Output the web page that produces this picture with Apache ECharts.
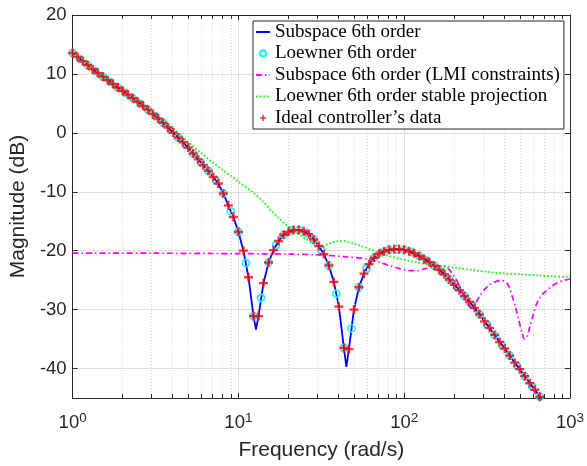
<!DOCTYPE html>
<html><head><meta charset="utf-8">
<script src="https://cdn.jsdelivr.net/npm/echarts@6/dist/echarts.min.js"></script>
<style>html,body{margin:0;padding:0;background:#fff}#c{width:587px;height:466px}</style>
</head><body><div id="c"></div>
<script>
// Ideal controller's data (red +)
const idealFreq = [
  1, 1.072, 1.15, 1.233, 1.322, 1.417, 1.52, 1.63, 1.748, 1.874,
  2.009, 2.154, 2.31, 2.477, 2.656, 2.848, 3.054, 3.275, 3.511, 3.765,
  4.037, 4.329, 4.642, 4.977, 5.337, 5.722, 6.136, 6.579, 7.055, 7.565,
  8.111, 8.697, 9.326, 10, 10.72, 11.5, 12.33, 13.22, 14.17, 15.2,
  16.3, 17.48, 18.74, 20.09, 21.54, 23.1, 24.77, 26.56, 28.48, 30.54,
  32.75, 35.11, 37.65, 40.37, 43.29, 46.42, 49.77, 53.37, 57.22, 61.36,
  65.79, 70.55, 75.65, 81.11, 86.97, 93.26, 100, 107.2, 115, 123.3,
  132.2, 141.7, 152, 163, 174.8, 187.4, 200.9, 215.4, 231, 247.7,
  265.6, 284.8, 305.4, 327.5, 351.1, 376.5, 403.7, 432.9, 464.2, 497.7,
  533.7, 572.2, 613.6, 657.9, 705.5, 756.5, 811.1, 869.7, 932.6, 1000];
const idealMag = [
  13.55, 12.86, 12.17, 11.48, 10.79, 10.15, 9.54, 8.93, 8.31, 7.70,
  7.09, 6.48, 5.87, 5.24, 4.59, 3.93, 3.2, 2.45, 1.7, 0.9,
  0.05, -0.8, -1.6, -2.5, -3.5, -4.5, -5.5, -6.45, -7.5, -8.6,
  -10.3, -12.3, -14.3, -16.8, -20.0, -24.5, -31.1, -31.1, -25.5, -22.0,
  -19.9, -18.35, -17.3, -16.8, -16.5, -16.5, -16.7, -17.2, -18.1, -19.2,
  -20.6, -22.5, -25.3, -29.5, -36.5, -36.7, -30.0, -26.2, -23.9, -22.3,
  -21.2, -20.5, -20.1, -19.85, -19.75, -19.75, -19.85, -20.1, -20.45, -20.9,
  -21.4, -21.95, -22.55, -23.25, -24.0, -24.9, -25.8, -26.7, -27.7, -28.7,
  -29.7, -30.8, -32.0, -33.1, -34.3, -35.5, -36.6, -37.8, -39.0, -40.1,
  -41.3, -42.5, -43.6, -44.8, -46.0, -47.2, -48.3, -49.5, -50.7, -51.9];

// Subspace 6th order (blue line)
const subspaceFreq = [
  1, 1.072, 1.15, 1.233, 1.322, 1.417, 1.52, 1.63, 1.748, 1.874,
  2.009, 2.154, 2.31, 2.477, 2.656, 2.848, 3.054, 3.275, 3.511, 3.765,
  4.037, 4.329, 4.642, 4.977, 5.337, 5.722, 6.136, 6.579, 7.055, 7.565,
  8.111, 8.697, 9.326, 10, 10.72, 11.5, 12.33, 12.76, 13.22, 14.17, 15.2,
  16.3, 17.48, 18.74, 20.09, 21.54, 23.1, 24.77, 26.56, 28.48, 30.54,
  32.75, 35.11, 37.65, 40.37, 43.29, 44.8, 46.42, 49.77, 53.37, 57.22, 61.36,
  65.79, 70.55, 75.65, 81.11, 86.97, 93.26, 100, 107.2, 115, 123.3,
  132.2, 141.7, 152, 163, 174.8, 187.4, 200.9, 215.4, 231, 247.7,
  265.6, 284.8, 305.4, 327.5, 351.1, 376.5, 403.7, 432.9, 464.2, 497.7,
  533.7, 572.2, 613.6, 657.9, 705.5, 756.5, 811.1, 869.7, 932.6, 1000];
const subspaceMag = [
  13.55, 12.86, 12.17, 11.48, 10.79, 10.15, 9.54, 8.93, 8.31, 7.70,
  7.09, 6.48, 5.87, 5.24, 4.59, 3.93, 3.2, 2.45, 1.7, 0.9,
  0.05, -0.8, -1.6, -2.5, -3.5, -4.5, -5.5, -6.45, -7.5, -8.6,
  -10.3, -12.3, -14.3, -16.8, -20.0, -24.5, -31.1, -33.4, -31.1, -25.5, -22.0,
  -19.9, -18.35, -17.3, -16.8, -16.5, -16.5, -16.7, -17.2, -18.1, -19.2,
  -20.6, -22.5, -25.3, -29.5, -36.5, -39.7, -36.7, -30.0, -26.2, -23.9, -22.3,
  -21.2, -20.5, -20.1, -19.85, -19.75, -19.75, -19.85, -20.1, -20.45, -20.9,
  -21.4, -21.95, -22.55, -23.25, -24.0, -24.9, -25.8, -26.7, -27.7, -28.7,
  -29.7, -30.8, -32.0, -33.1, -34.3, -35.5, -36.6, -37.8, -39.0, -40.1,
  -41.3, -42.5, -43.6, -44.8, -46.0, -47.2, -48.3, -49.5, -50.7, -51.9];

// Loewner 6th order (cyan circles)
const loewnerFreq = [
  1, 1.11, 1.233, 1.369, 1.52, 1.688, 1.874, 2.081, 2.31, 2.565,
  2.848, 3.162, 3.511, 3.898, 4.329, 4.806, 5.337, 5.926, 6.579, 7.305,
  8.111, 9.006, 10, 11.1, 12.33, 13.69, 15.2, 16.88, 18.74, 20.81,
  23.1, 25.65, 28.48, 31.62, 35.11, 38.98, 43.29, 48.06, 53.37, 59.26,
  65.79, 73.05, 81.11, 90.06, 100, 111, 123.3, 136.9, 152, 168.8,
  187.4, 208.1, 231, 256.5, 284.8, 316.2, 351.1, 389.8, 432.9, 480.6,
  533.7, 592.6, 657.9, 730.5, 811.1, 900.6, 1000];
const loewnerMag = [
  13.55, 12.52, 11.48, 10.47, 9.54, 8.62, 7.70, 6.78, 5.87, 4.92,
  3.93, 2.82, 1.7, 0.48, -0.8, -2.05, -3.5, -5.0, -6.45, -8.05,
  -10.3, -13.3, -16.8, -22.1, -31.1, -28.0, -22.0, -19.05, -17.3, -16.6,
  -16.5, -16.95, -18.1, -19.9, -22.5, -27.3, -36.5, -33.2, -26.2, -23.0,
  -21.2, -20.3, -19.85, -19.75, -19.85, -20.27, -20.9, -21.67, -22.55, -23.6,
  -24.9, -26.25, -27.7, -29.2, -30.8, -32.55, -34.3, -36.05, -37.8, -39.55,
  -41.3, -43.05, -44.8, -46.6, -48.3, -50.1, -51.9];

// Subspace 6th order (LMI constraints) (magenta dash-dot)
const lmiFreq = [1, 3, 10, 20, 30, 45, 60, 75, 90, 105, 118, 132, 150, 170, 185, 200, 215, 230, 245, 256,
  268, 285, 305, 330, 360, 385, 420, 448, 470, 489, 510, 532, 550, 572, 600, 626, 660, 707, 780, 850, 930, 1000];
const lmiMag = [-20.4, -20.42, -20.5, -20.58, -20.7, -21.05, -21.4, -22.2, -22.9, -23.35, -23.4, -23.1, -22.7, -22.55, -23.1, -24.3, -25.9, -27.8, -29.3, -29.65,
  -29.1, -27.7, -26.6, -25.7, -25.2, -25.05, -25.6, -27.7, -29.6, -31.6, -33.6, -35.0, -34.6, -33.0, -30.9, -29.2, -27.9, -27.0, -26.0, -25.4, -25.0, -24.8];

// Loewner 6th order stable projection (green dotted)
const stableFreq = [1, 1.5, 2, 2.5, 3, 3.5, 4, 5, 6, 7, 8, 9, 10, 12, 14, 16, 18, 20, 22, 24, 26, 28, 30, 32, 34, 37, 41, 45,
  50, 55, 62, 70, 80, 95, 120, 140, 170, 210, 260, 320, 400, 500, 650, 800, 1000];
const stableMag = [13.55, 9.65, 7.1, 5.15, 3.45, 2.1, 0.85, -1.6, -3.5, -5.0, -6.3, -7.3, -8.3, -9.9, -11.6, -13.4, -14.8, -15.9, -16.8, -17.5, -18.15, -18.75, -19.3, -19.4, -19.0, -18.6, -18.35, -18.45,
  -18.8, -19.2, -19.75, -20.35, -20.85, -21.4, -22.0, -22.35, -22.65, -22.95, -23.3, -23.6, -23.85, -24.0, -24.2, -24.35, -24.5];

// minor log grid positions
const minorTicks = [2, 3, 4, 5, 6, 7, 8, 9, 20, 30, 40, 50, 60, 70, 80, 90, 200, 300, 400, 500, 600, 700, 800, 900];

const seriesNames = ['Subspace 6th order', 'Loewner 6th order', 'Subspace 6th order (LMI constraints)',
  'Loewner 6th order stable projection', 'Ideal controller\u2019s data'];

const zip = (a, b) => a.map((v, i) => [v, b[i]]);
const AX = '#262626';
const sans = 'Liberation Sans';
const plusPath = 'path://M3.7,0H6.3V3.7H10V6.3H6.3V10H3.7V6.3H0V3.7H3.7Z';

const chart = echarts.init(document.getElementById('c'), null, {renderer: 'canvas'});
const option = {
  animation: false,
  backgroundColor: '#fff',
  grid: {left: 68, right: 15, top: 15, bottom: 65, containLabel: false},
  xAxis: [{
    type: 'log', logBase: 10, min: 1, max: 1000, position: 'bottom',
    axisLine: {show: true, onZero: false, lineStyle: {color: AX, width: 1}},
    axisTick: {show: true, inside: true, length: 5, lineStyle: {color: AX}},
    splitLine: {show: true, lineStyle: {color: '#dedede', width: 1}},
    axisLabel: {
      margin: 13, color: AX, fontFamily: sans, fontSize: 18.5,
      formatter: v => '{b|10}{s|' + Math.round(Math.log10(v)) + '}',
      rich: {
        b: {fontFamily: sans, fontSize: 18.5, lineHeight: 24, color: AX},
        s: {fontFamily: sans, fontSize: 13.5, lineHeight: 13, verticalAlign: 'top', color: AX}
      }
    },
    name: 'Frequency (rad/s)', nameLocation: 'middle', nameGap: 42,
    nameTextStyle: {fontFamily: sans, fontSize: 21, color: AX}
  }, {
    type: 'log', logBase: 10, min: 1, max: 1000, position: 'top',
    axisLine: {show: true, onZero: false, lineStyle: {color: AX, width: 1}},
    axisTick: {show: true, inside: true, length: 5, lineStyle: {color: AX}},
    axisLabel: {show: false}, splitLine: {show: false}
  }],
  yAxis: [{
    type: 'value', min: -45, max: 20, splitNumber: 7, position: 'left',
    axisLine: {show: true, onZero: false, lineStyle: {color: AX, width: 1}},
    axisTick: {show: true, inside: true, length: 5, lineStyle: {color: AX}},
    splitLine: {show: true, lineStyle: {color: '#dedede', width: 1}},
    axisLabel: {margin: 6, color: AX, fontFamily: sans, fontSize: 18.5, showMinLabel: false},
    name: 'Magnitude (dB)', nameLocation: 'middle', nameGap: 42, nameRotate: 90,
    nameTextStyle: {fontFamily: sans, fontSize: 21, color: AX}
  }, {
    type: 'value', min: -45, max: 20, splitNumber: 7, position: 'right',
    axisLine: {show: true, onZero: false, lineStyle: {color: AX, width: 1}},
    axisTick: {show: true, inside: true, length: 5, lineStyle: {color: AX}},
    axisLabel: {show: false}, splitLine: {show: false}
  }],
  legend: {
    show: true, orient: 'vertical', left: 253, top: 21, align: 'left',
    itemWidth: 14, itemHeight: 6, itemGap: 1.5, padding: [1, 4, 1, 2],
    backgroundColor: '#fff', borderColor: AX, borderWidth: 1, borderRadius: 0,
    textStyle: {fontFamily: 'Liberation Serif', fontSize: 19, color: '#000', lineHeight: 20},
    data: [
      {name: seriesNames[0], itemStyle: {opacity: 0}},
      {name: seriesNames[1]},
      {name: seriesNames[2], itemStyle: {opacity: 0}},
      {name: seriesNames[3], itemStyle: {opacity: 0}},
      {name: seriesNames[4]}
    ],
    selectedMode: false, z: 20
  },
  series: [
    {
      name: '_minorgrid', type: 'line', data: [[1, -100]], symbol: 'none', silent: true, z: 1,
      lineStyle: {width: 0},
      markLine: {
        silent: true, symbol: ['none', 'none'], label: {show: false}, animation: false,
        emphasis: {disabled: true},
        lineStyle: {color: '#d6d6d6', type: [1, 2], width: 1},
        data: minorTicks.map(v => ({xAxis: v}))
      }
    },
    {
      name: '_minorticks', type: 'line', data: [[1, -100]], symbol: 'none', silent: true, z: 1,
      lineStyle: {width: 0},
      markLine: {
        silent: true, symbol: ['none', 'none'], label: {show: false}, animation: false,
        emphasis: {disabled: true},
        lineStyle: {color: AX, type: 'solid', width: 1},
        data: minorTicks.flatMap(v => [
          [{coord: [v, -45]}, {coord: [v, -44.35]}],
          [{coord: [v, 20]}, {coord: [v, 19.35]}]
        ])
      }
    },
    {
      name: seriesNames[0], type: 'line', data: zip(subspaceFreq, subspaceMag), symbol: 'none',
      lineStyle: {color: '#0000ff', width: 1.8}, itemStyle: {color: '#0000ff'}, z: 3, clip: true
    },
    {
      name: seriesNames[1], type: 'scatter', data: zip(loewnerFreq, loewnerMag), symbol: 'circle', symbolSize: 7,
      itemStyle: {color: 'rgba(255,255,255,0)', borderColor: '#00ffff', borderWidth: 1.6, opacity: 1}, z: 4, clip: true
    },
    {
      name: seriesNames[2], type: 'line', data: zip(lmiFreq, lmiMag), symbol: 'none', smooth: 0.3,
      lineStyle: {color: '#ff00ff', width: 1.7, type: [6, 3, 1.5, 3]}, itemStyle: {color: '#ff00ff'}, z: 5, clip: true
    },
    {
      name: seriesNames[3], type: 'line', data: zip(stableFreq, stableMag), symbol: 'none', smooth: 0.3,
      lineStyle: {color: '#00ff00', width: 1.7, type: [1.7, 2]}, itemStyle: {color: '#00ff00'}, z: 6, clip: true
    },
    {
      name: seriesNames[4], type: 'scatter', data: zip(idealFreq, idealMag), symbol: plusPath, symbolSize: 9,
      itemStyle: {color: '#ff0000'}, z: 7, clip: true
    }
  ]
};
chart.setOption(option);
</script>
</body></html>
